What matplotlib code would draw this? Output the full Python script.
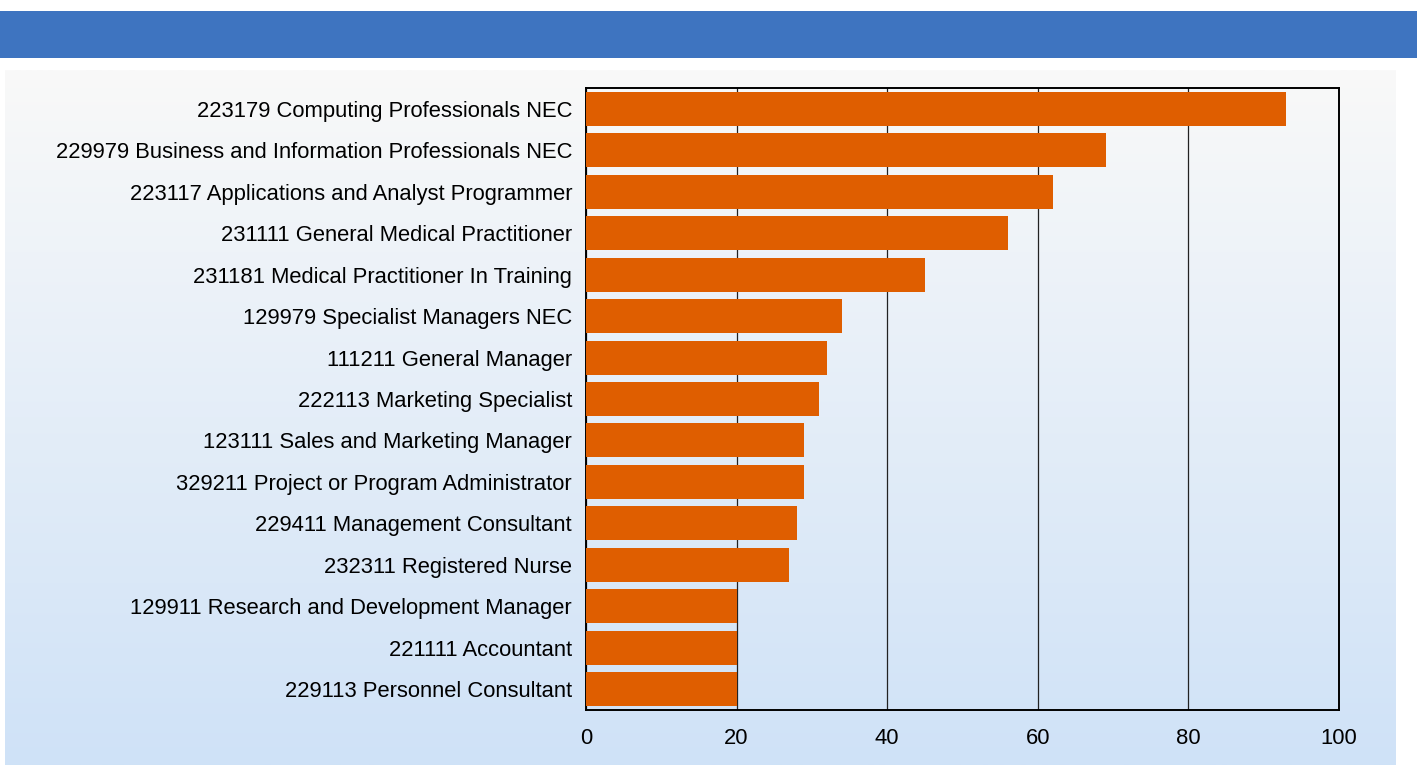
import numpy as np
import matplotlib
matplotlib.use("Agg")
import matplotlib.pyplot as plt

plt.rcParams['font.family'] = ['Liberation Sans', 'DejaVu Sans']

occupations = [
    "223179 Computing Professionals NEC",
    "229979 Business and Information Professionals NEC",
    "223117 Applications and Analyst Programmer",
    "231111 General Medical Practitioner",
    "231181 Medical Practitioner In Training",
    "129979 Specialist Managers NEC",
    "111211 General Manager",
    "222113 Marketing Specialist",
    "123111 Sales and Marketing Manager",
    "329211 Project or Program Administrator",
    "229411 Management Consultant",
    "232311 Registered Nurse",
    "129911 Research and Development Manager",
    "221111 Accountant",
    "229113 Personnel Consultant",
]
counts = [93, 69, 62, 56, 45, 34, 32, 31, 29, 29, 28, 27, 20, 20, 20]
xticks = [0, 20, 40, 60, 80, 100]

W, H = 1417, 765
fig = plt.figure(figsize=(W / 100, H / 100), dpi=100)
fig.patch.set_facecolor('white')

# blue header band
band = fig.add_axes([0, 1 - 58 / H, 1, 47 / H])
band.set_facecolor('#3E74C0')
band.set_xticks([])
band.set_yticks([])
for s in band.spines.values():
    s.set_visible(False)

# gradient panel behind the chart
panel = fig.add_axes([5 / W, 0, (1396 - 5) / W, (H - 70) / H])
grad = np.linspace(0, 1, 256).reshape(-1, 1)
top_c = np.array([0xF9, 0xF9, 0xF9]) / 255
bot_c = np.array([0xCF, 0xE2, 0xF7]) / 255
img = top_c + (bot_c - top_c) * grad[:, :, None]
panel.imshow(img, aspect='auto', extent=[0, 1, 0, 1])
panel.set_axis_off()

ax = fig.add_axes([586 / W, 1 - 710 / H, (1339 - 586) / W, (710 - 88) / H])
ax.set_facecolor('none')
y = np.arange(len(occupations))
ax.barh(y, counts, height=0.82, color='#DF5E00', zorder=3)
ax.set_ylim(len(occupations) - 0.5, -0.5)
ax.set_xlim(0, 100)
ax.set_yticks(y)
ax.set_yticklabels(occupations, fontsize=15.8)
ax.set_xticks(xticks)
ax.set_xticklabels([str(v) for v in xticks], fontsize=15.8)
ax.tick_params(axis='x', length=0, pad=13)
ax.tick_params(axis='y', length=0, pad=10)
ax.grid(axis='x', color='#222222', linewidth=0.9, zorder=1)
for s in ax.spines.values():
    s.set_color('black')
    s.set_linewidth(1.4)

fig.savefig('out.png', dpi=100)
